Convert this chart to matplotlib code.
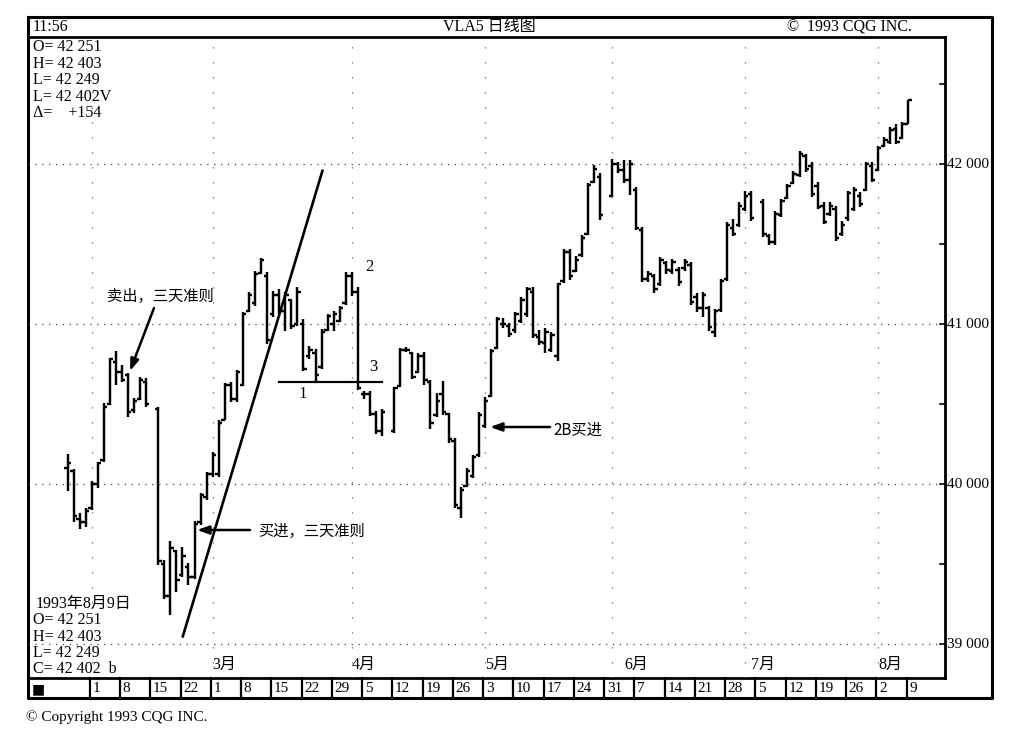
import numpy as np
import pandas as pd
import matplotlib
matplotlib.use('Agg')
import matplotlib.pyplot as plt
from matplotlib.collections import LineCollection
from matplotlib import transforms

plt.rcParams['font.family'] = ['Liberation Serif', 'Noto Sans CJK SC', 'DejaVu Sans']

# ---------------- data ----------------
holidays = ['1993-02-15', '1993-04-09', '1993-05-31', '1993-07-05']
dates = pd.bdate_range('1993-01-26', '1993-08-09')
dates = dates[~dates.isin(pd.to_datetime(holidays))]

highs = [
    40188, 40094, 39819, 39850,
    40019, 40138, 40506, 40788, 40831,
    40744, 40694, 40538, 40669, 40663,
    40481, 39525, 39644, 39588,
    39606, 39506, 39769, 39944, 40075,
    40200, 40400, 40631, 40638, 40713,
    41075, 41200, 41331, 41413, 41325,
    41206, 41219, 41200, 41156, 41231,
    41031, 40863, 40844, 40969, 41063,
    41081, 41113, 41325, 41325, 41231,
    40581, 40581, 40456, 40469,
    40606, 40850, 40856, 40825, 40819,
    40825, 40650, 40569, 40644, 40444,
    40288, 39981, 40100, 40181, 40450,
    40544, 40844, 41044, 41038, 41006,
    41075, 41169, 41231, 41231, 40963,
    40975, 40950, 41256, 41469, 41469,
    41425, 41556, 41881, 41994, 41944,
    42031, 42013, 42025, 42025,
    41856, 41604, 41333, 41313, 41417,
    41396, 41406, 41354, 41406, 41385,
    41194, 41198, 41115, 41094, 41281,
    41635, 41656, 41760, 41833, 41833,
    41781, 41563, 41708, 41781,
    41875, 41958, 42083, 42063, 42015,
    41885, 41760, 41760, 41740, 41646,
    41833, 41854, 41823, 42015, 42015,
    42115, 42167, 42229, 42250, 42260,
    42403]

lows = [
    39956, 39763, 39719, 39731,
    39838, 39975, 40138, 40494, 40619,
    40638, 40419, 40444, 40525, 40481,
    39494, 39281, 39181, 39325,
    39419, 39369, 39406, 39744, 39900,
    40044, 40044, 40400, 40513, 40513,
    40613, 41075, 41113, 41313, 40875,
    41044, 41063, 40956, 40969, 40988,
    40706, 40781, 40640, 40719, 40956,
    40956, 41013, 41119, 41175, 40590,
    40531, 40425, 40313, 40300,
    40319, 40606, 40825, 40656, 40694,
    40619, 40344, 40419, 40431, 40256,
    39850, 39788, 39981, 40038, 40169,
    40350, 40544, 40844, 40975, 40919,
    40944, 41006, 41044, 40913, 40869,
    40819, 40825, 40769, 41256, 41275,
    41325, 41419, 41556, 41881, 41650,
    41794, 41944, 41881, 41806,
    41588, 41260, 41260, 41194, 41240,
    41313, 41313, 41240, 41333, 41119,
    41077, 41042, 40958, 40917, 41077,
    41271, 41552, 41604, 41708, 41646,
    41542, 41494, 41494, 41667,
    41781, 41875, 41917, 41948, 41792,
    41719, 41625, 41677, 41521, 41552,
    41646, 41708, 41729, 41833, 41885,
    41958, 42104, 42125, 42125, 42156,
    42249]

opens = [
    40100, 40080, 39780, 39760,
    39850, 40000, 40150, 40500, 40760,
    40700, 40680, 40460, 40530, 40640,
    40470, 39500, 39300, 39580,
    39430, 39480, 39420, 39760, 39920,
    40060, 40060, 40400, 40620, 40530,
    40620, 41080, 41130, 41320, 41300,
    41060, 41180, 41080, 41150, 41000,
    41000, 40800, 40820, 40730, 40960,
    41000, 41020, 41130, 41300, 41200,
    40560, 40560, 40440, 40330,
    40330, 40610, 40840, 40820, 40700,
    40800, 40640, 40430, 40560, 40440,
    40270, 39850, 39990, 40050, 40180,
    40360, 40550, 40850, 41000, 40990,
    40960, 41020, 41060, 41200, 40920,
    40880, 40840, 40800, 41270, 41450,
    41330, 41430, 41560, 41890, 41920,
    41800, 42000, 41960, 41900,
    41840, 41590, 41280, 41300, 41250,
    41380, 41330, 41340, 41350, 41370,
    41170, 41100, 41100, 40950, 41090,
    41280, 41600, 41620, 41720, 41810,
    41760, 41550, 41510, 41680,
    41790, 41880, 41930, 42050, 41990,
    41860, 41740, 41690, 41720, 41560,
    41660, 41720, 41800, 41840, 41990,
    41960, 42110, 42140, 42220, 42160,
    42251]

closes = [
    40130, 39800, 39760, 39830,
    40000, 40130, 40480, 40780, 40700,
    40650, 40450, 40520, 40650, 40500,
    39520, 39300, 39600, 39400,
    39550, 39420, 39750, 39930, 40060,
    40180, 40380, 40620, 40530, 40700,
    41060, 41180, 41310, 41400, 40900,
    41180, 41080, 41180, 40990, 41200,
    40720, 40840, 40680, 40950, 41050,
    41060, 41100, 41300, 41200, 40600,
    40560, 40440, 40330, 40450,
    40600, 40840, 40840, 40670, 40800,
    40650, 40380, 40520, 40450, 40280,
    39870, 39960, 40080, 40170, 40430,
    40520, 40830, 41030, 41000, 40940,
    41060, 41150, 41220, 40930, 40890,
    40950, 40930, 41250, 41450, 41300,
    41400, 41540, 41870, 41970, 41680,
    42000, 41960, 41900, 42000,
    41600, 41280, 41310, 41220, 41400,
    41340, 41390, 41260, 41390, 41140,
    41100, 41180, 40980, 41080, 41270,
    41620, 41560, 41740, 41800, 41660,
    41560, 41510, 41690, 41770,
    41860, 41940, 42060, 41970, 41810,
    41730, 41640, 41740, 41540, 41620,
    41820, 41840, 41750, 42000, 41900,
    42100, 42150, 42210, 42140, 42248,
    42402]

week_starts = pd.date_range('1993-02-01', '1993-08-09', freq='W-MON')
week_labels = ['1', '8', '15', '22', '1', '8', '15', '22', '29', '5', '12', '19', '26',
               '3', '10', '17', '24', '31', '7', '14', '21', '28', '5', '12', '19', '26',
               '2', '9']
month_labels = ['3月', '4月', '5月', '6月', '7月', '8月']
month_label_dates = ['1993-03-01', '1993-04-01', '1993-05-03', '1993-06-03', '1993-07-02', '1993-08-02']
month_grid_dates = ['1993-02-01', '1993-03-01', '1993-04-01', '1993-05-03', '1993-06-01',
                    '1993-07-01', '1993-08-02']
price_levels = [39000, 40000, 41000, 42000]
price_labels = ['39 000', '40 000', '41 000', '42 000']

# analyst drawings (date, price)
trend_line = [('1993-02-22', 39040), ('1993-03-25', 41965)]
support_line = [('1993-03-16', 40635), ('1993-04-08', 40635)]

ORIGIN = np.datetime64('1993-01-25')


def day_index(d):
    return np.busday_count(ORIGIN, np.datetime64(pd.Timestamp(d).date()))


def fmt(v):
    return f"{int(v):,}".replace(',', ' ')


x = np.array([day_index(d) for d in dates], dtype=float)
o = np.array(opens); h = np.array(highs); l = np.array(lows); c = np.array(closes)

# ---------------- figure ----------------
W, H = 1024, 734
fig = plt.figure(figsize=(W / 100, H / 100), dpi=100)
fig.patch.set_facecolor('white')

ov = fig.add_axes([0, 0, 1, 1])
ov.set_xlim(0, W); ov.set_ylim(H, 0); ov.axis('off')

L_, R_, T_, B_ = 28, 945, 37, 678
ax = fig.add_axes([L_ / W, 1 - B_ / H, (R_ - L_) / W, (B_ - T_) / H])
ax.set_xlim(-5.53, 146.05)
ax.set_ylim(38787.5, 42793.75)
ax.axis('off')

# gridlines
for lv in price_levels:
    ax.axhline(lv, color='#444444', lw=0.9, ls=(0, (1, 4.5)), zorder=1)
for d in month_grid_dates:
    ax.axvline(day_index(d), color='#666666', lw=0.9, ls=(0, (1, 11)), zorder=1)

# OHLC bars
segs = []
for xi, oi, hi, li, ci in zip(x, o, h, l, c):
    segs.append([(xi, li), (xi, hi)])
    segs.append([(xi - 0.55, oi), (xi, oi)])
    segs.append([(xi, ci), (xi + 0.55, ci)])
ax.add_collection(LineCollection(segs, colors='black', linewidths=1.75, zorder=3))

# analyst lines
tx = [day_index(d) + (0.2 if i == 1 else 0) for i, (d, _) in enumerate(trend_line)]
ax.plot(tx, [p for _, p in trend_line], color='black', lw=1.9, zorder=4,
        solid_capstyle='butt')
sx = [day_index(support_line[0][0]), day_index(support_line[1][0])]
ax.plot(sx, [p for _, p in support_line], color='black', lw=1.6, zorder=4)

# ---------------- frame ----------------
k = dict(color='black', lw=2.0, solid_capstyle='projecting')
ov.plot([L_, 992, 992, L_, L_], [17, 17, 698, 698, 17], color='black', lw=2.2)
ov.plot([L_, R_], [T_, T_], **k)
ov.plot([R_, R_], [T_, B_], **k)
ov.plot([L_, R_], [B_, B_], **k)

tx_blend = transforms.blended_transform_factory(ax.transData, ov.transData)
ty_blend = transforms.blended_transform_factory(ov.transData, ax.transData)

# right axis ticks and labels
for p in np.arange(39000, 42600, 500):
    ov.plot([R_ - 5, R_], [p, p], color='black', lw=1.2, transform=ty_blend)
for lv, lab in zip(price_levels, price_labels):
    ov.text(R_ + 2, lv, lab, transform=ty_blend, ha='left', va='center', fontsize=11)

# date bar
for d, lab in zip(week_starts, week_labels):
    xb = day_index(d) - 0.3
    ov.plot([xb, xb], [B_, 698], color='black', lw=1.6, transform=tx_blend)
    ov.text(xb + 0.45, 689, lab, transform=tx_blend, ha='left', va='center', fontsize=11)
ov.text(32, 689, '■', ha='left', va='center', fontsize=10, family=['DejaVu Sans'])
for d, lab in zip(month_label_dates, month_labels):
    ov.text(day_index(d), 665, lab, transform=tx_blend, ha='left', va='center', fontsize=11.5)

# header
ov.text(33, 27, '11:56', ha='left', va='center', fontsize=11.5)
ov.text(489, 27, 'VLA5 日线图', ha='center', va='center', fontsize=11.5)
ov.text(787, 27, '©  1993 CQG INC.', ha='left', va='center', fontsize=11.5)
ov.text(26, 717, '© Copyright 1993 CQG INC.', ha='left', va='center', fontsize=11)

# info blocks
delta = closes[-1] - closes[-2]
top_block = [f'O= {fmt(opens[-1])}', f'H= {fmt(highs[-1])}', f'L= {fmt(lows[-1])}',
             f'L= {fmt(closes[-1])}V', f'Δ=    +{delta}']
for i, s in enumerate(top_block):
    ov.text(33, 47 + i * 16.6, s, ha='left', va='center', fontsize=11.5)
bot_block = ['1993年8月9日', f'O= {fmt(opens[-1])}', f'H= {fmt(highs[-1])}',
             f'L= {fmt(lows[-1])}', f'C= {fmt(closes[-1])}  b']
for i, s in enumerate(bot_block):
    ov.text(36 if i == 0 else 33, 604 + i * 16.3, s, ha='left', va='center', fontsize=11.5)

# annotations
cjk = ['Noto Sans CJK SC', 'DejaVu Sans']
arrow = dict(arrowstyle='-|>,head_length=0.7,head_width=0.25', lw=1.8, color='black',
             shrinkA=0, shrinkB=0)
ov.text(107, 296, '卖出，三天准则', ha='left', va='center', fontsize=11, family=cjk)
ov.annotate('', xy=(130, 371), xytext=(154, 308), arrowprops=arrow)
ov.text(258, 531, '买进，三天准则', ha='left', va='center', fontsize=11, family=cjk)
ov.annotate('', xy=(197, 530), xytext=(250, 530), arrowprops=arrow)
ov.text(553, 430, '2B买进', ha='left', va='center', fontsize=11, family=cjk)
ov.annotate('', xy=(490, 427), xytext=(550, 427), arrowprops=arrow)
ov.text(303, 394, '1', ha='center', va='center', fontsize=12)
ov.text(369, 267, '2', ha='center', va='center', fontsize=12)
ov.text(373, 367, '3', ha='center', va='center', fontsize=12)

fig.savefig('out.png', dpi=100, facecolor='white')
